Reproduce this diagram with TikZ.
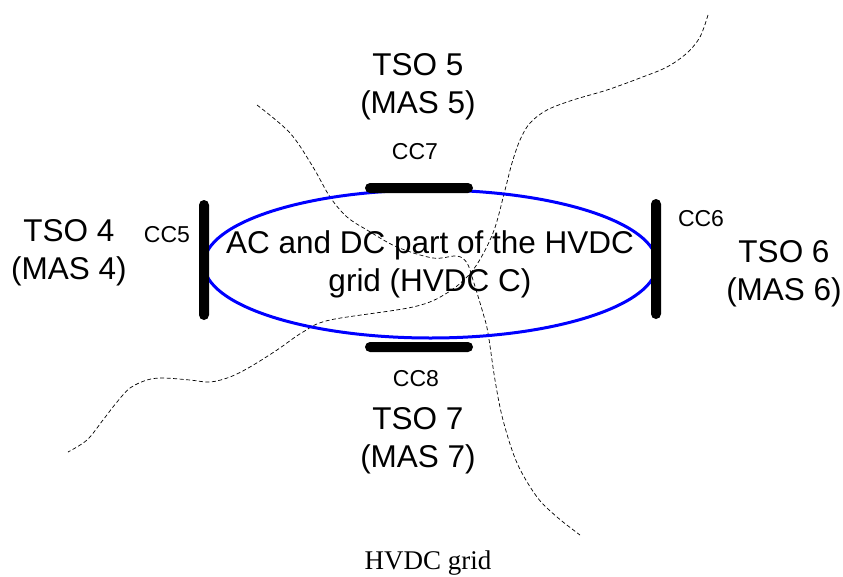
\documentclass[tikz,border=0pt]{standalone}
\usepackage{fontspec}
\setmainfont{Liberation Sans}
\newfontfamily\capfont{Liberation Serif}
\usetikzlibrary{positioning,shapes.geometric}
\definecolor{GridBlue}{HTML}{0000FF}
\tikzset{
  every picture/.append style={x=1pt, y=-1pt},
  tso/.style={align=center, inner sep=0pt, font=\fontsize{31.5}{38}\selectfont},
  ccl/.style={inner sep=0pt, font=\fontsize{23}{26}\selectfont},
  barH/.style={rectangle, rounded corners=5pt, fill=black, inner sep=0pt,
               minimum width=108pt, minimum height=10pt},
  barV/.style={rectangle, rounded corners=5pt, fill=black, inner sep=0pt,
               minimum width=10pt, minimum height=120pt},
  oval/.style={ellipse, draw=GridBlue, line width=3pt, inner sep=0pt,
               minimum width=453pt, minimum height=148pt},
  border/.style={dashed, dash pattern=on 4pt off 2.5pt, line width=0.7pt},
}

\begin{document}
\begin{tikzpicture}
\useasboundingbox (0,0) rectangle (843,576);

% ---------------- area borders ------------------------------------------------
\draw[border] plot[smooth, tension=0.55] coordinates {
  (257,105) (290,133) (313,167) (330,197) (347,217) (367,230) (397,247)
  (433,258) (457,256) (467,263) (473,280) (483,313) (488,333) (495,380)
  (503,420) (517,463) (537,497) (557,517) (580,535)};
\draw[border] plot[smooth, tension=0.55] coordinates {
  (708,15) (700,37) (687,53) (667,67) (640,78) (607,90) (573,100) (547,110)
  (530,123) (520,140) (512,163) (505,190) (493,233) (473,270) (447,293)
  (413,307) (330,320) (303,332) (277,350) (250,367) (230,377) (210,382)
  (190,380) (163,378) (147,380) (130,388) (117,402) (103,420) (87,440) (68,452)};

% ---------------- HVDC C grid and converters ------------------------------------
\node[oval] (hvdc) at (430.5,264) {};
\node[tso] (hvdctxt) at (430,264) {AC and DC part of the HVDC\\grid (HVDC C)};

\node[barV] (bar5) at (204,260) {};
\node[barV] (bar6) at (656,259) {};
\node[barH] (bar7) at (419,188) {};
\node[barH] (bar8) at (419,347) {};

\node[ccl, above=23pt of bar7, xshift=-4pt] (cc7) {CC7};
\node[ccl, below=18pt of bar8, xshift=-3pt] (cc8) {CC8};
\node[ccl] (cc5) at (167,235) {CC5};
\node[ccl] (cc6) at (701,219) {CC6};

% ---------------- neighbouring TSOs ----------------------------------------------
\node[tso] (tso5) at (418,87) {TSO 5\\(MAS 5)};
\node[tso] (tso4) at (69,253) {TSO 4\\(MAS 4)};
\node[tso] (tso6) at (784,274) {TSO 6\\(MAS 6)};
\node[tso] (tso7) at (418,441) {TSO 7\\(MAS 7)};

\node[font=\capfont\fontsize{27}{30}\selectfont, anchor=base, inner sep=0pt] (cap) at (428,569) {HVDC grid};
\end{tikzpicture}
\end{document}
